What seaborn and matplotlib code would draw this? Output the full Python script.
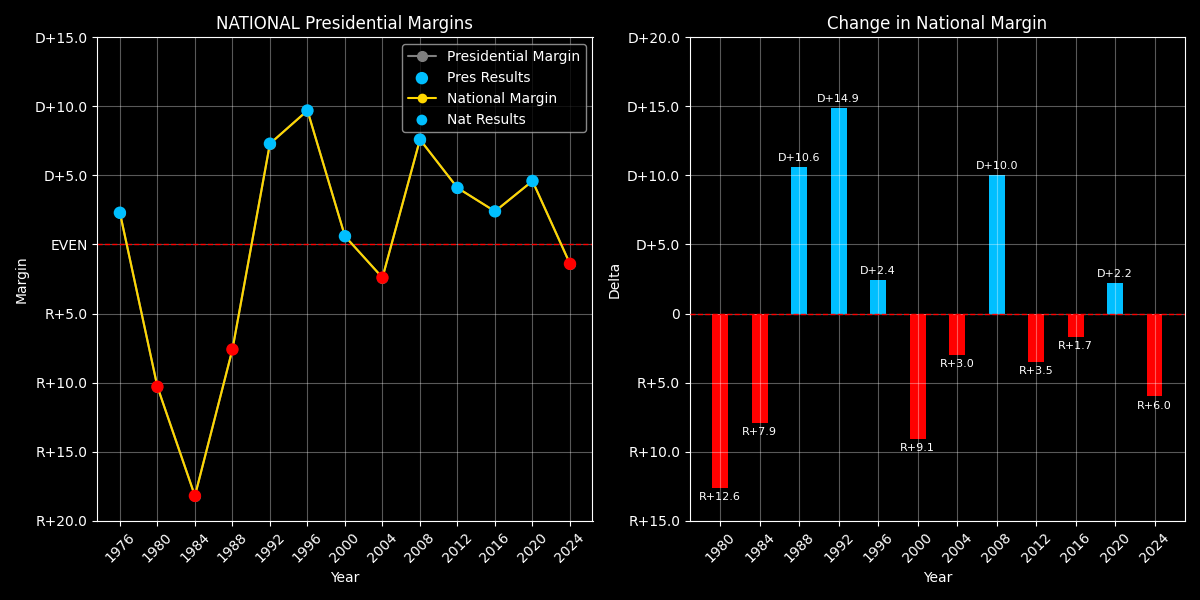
import matplotlib
matplotlib.use("Agg")
import matplotlib.pyplot as plt
import seaborn as sns
import pandas as pd
import numpy as np

# ---- data ----
years = [1976, 1980, 1984, 1988, 1992, 1996, 2000, 2004, 2008, 2012, 2016, 2020, 2024]
margins = [2.3, -10.3, -18.2, -7.6, 7.3, 9.7, 0.6, -2.4, 7.6, 4.1, 2.4, 4.6, -1.4]
change_years = [1980, 1984, 1988, 1992, 1996, 2000, 2004, 2008, 2012, 2016, 2020, 2024]
changes = [-12.6, -7.9, 10.6, 14.9, 2.4, -9.1, -3.0, 10.0, -3.5, -1.7, 2.2, -6.0]

left_ticks = [-20, -15, -10, -5, 0, 5, 10, 15]
left_labels = ["R+20.0", "R+15.0", "R+10.0", "R+5.0", "EVEN", "D+5.0", "D+10.0", "D+15.0"]
right_ticks = [-15, -10, -5, 0, 5, 10, 15, 20]
right_labels = ["R+15.0", "R+10.0", "R+5.0", "0", "D+5.0", "D+10.0", "D+15.0", "D+20.0"]

BLUE = "#00BFFF"
RED = "#FF0000"
GOLD = "#FFD700"

plt.style.use("dark_background")
sns.set_style("dark", {"axes.facecolor": "black", "figure.facecolor": "black",
                       "axes.edgecolor": "white", "text.color": "white",
                       "axes.labelcolor": "white", "xtick.color": "white",
                       "ytick.color": "white", "grid.color": "#777777"})
plt.rcParams["font.family"] = ["DejaVu Sans"]
plt.rcParams["xtick.bottom"] = True
plt.rcParams["ytick.left"] = True

df = pd.DataFrame({"Year": years, "Margin": margins})
df["color"] = [BLUE if m >= 0 else RED for m in margins]
dc = pd.DataFrame({"Year": change_years, "Delta": changes})
dc["color"] = [BLUE if d >= 0 else RED for d in changes]

fig, (ax1, ax2) = plt.subplots(1, 2, figsize=(12, 6), dpi=100)

# ---- left ----
ax1.plot(df["Year"], df["Margin"], color="gray", marker="o", markersize=7,
         label="Presidential Margin", zorder=2)
ax1.scatter(df["Year"], df["Margin"], c=df["color"], s=80, zorder=4, label="Pres Results",
            linewidths=0)
sns.lineplot(data=df, x="Year", y="Margin", ax=ax1, color=GOLD, marker="o",
             markersize=7, markeredgewidth=0, linewidth=1.5, label="National Margin", zorder=3)
ax1.scatter(df["Year"], df["Margin"], c=df["color"], s=60, zorder=5, label="Nat Results",
            linewidths=0)
ax1.axhline(0, color="red", linestyle="--", linewidth=1, zorder=1)
ax1.set_xticks(years)
ax1.set_xticklabels([str(y) for y in years], rotation=45)
ax1.set_ylim(-20, 15)
ax1.set_yticks(left_ticks)
ax1.set_yticklabels(left_labels)
ax1.set_title("NATIONAL Presidential Margins", fontsize=12)
ax1.set_xlabel("Year")
ax1.set_ylabel("Margin")
ax1.grid(True, color="white", alpha=0.35, linewidth=0.8)
leg = ax1.legend(loc="upper right", facecolor="black", edgecolor="#aaaaaa", framealpha=0.8)
for t in leg.get_texts():
    t.set_color("white")

# ---- right ----
sns.barplot(data=dc, x="Year", y="Delta", hue="Year", palette=list(dc["color"]),
            native_scale=True, width=0.4, ax=ax2, legend=False, saturation=1, zorder=2,
            linewidth=0, edgecolor="none")
ax2.axhline(0, color="red", linestyle="--", linewidth=1, zorder=4)
for yr, d in zip(change_years, changes):
    lab = ("D+%.1f" % d) if d >= 0 else ("R+%.1f" % -d)
    if d >= 0:
        ax2.text(yr, d + 0.3, lab, ha="center", va="bottom", fontsize=8, color="white")
    else:
        ax2.text(yr, d - 0.3, lab, ha="center", va="top", fontsize=8, color="white")
ax2.set_xticks(change_years)
ax2.set_xticklabels([str(y) for y in change_years], rotation=45)
ax2.set_xlim(1976.92, 2027.08)
ax2.set_ylim(-15, 20)
ax2.set_yticks(right_ticks)
ax2.set_yticklabels(right_labels)
ax2.set_title("Change in National Margin", fontsize=12)
ax2.set_xlabel("Year")
ax2.set_ylabel("Delta")
ax2.grid(True, color="white", alpha=0.35, linewidth=0.8, zorder=3)
ax2.set_axisbelow(False)

for ax in (ax1, ax2):
    for s in ax.spines.values():
        s.set_color("white")
        s.set_visible(True)

plt.tight_layout()
fig.savefig("out.png", dpi=100, facecolor="black")
